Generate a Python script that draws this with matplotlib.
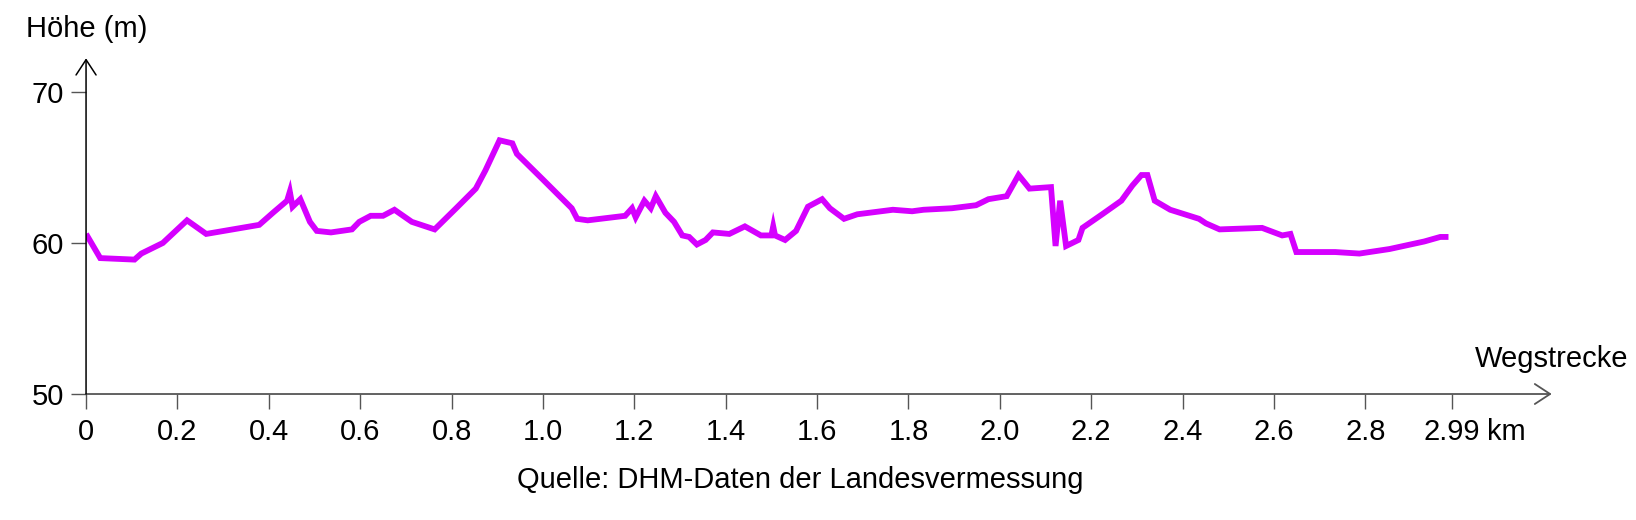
import matplotlib
matplotlib.use("Agg")
import matplotlib.pyplot as plt

plt.rcParams['font.family'] = ['Liberation Sans', 'DejaVu Sans']

# elevation profile (km, m)
dist = [0.0, 0.031, 0.106, 0.121, 0.168, 0.221, 0.263, 0.379, 0.409, 0.44, 0.446, 0.452,
        0.469, 0.49, 0.505, 0.536, 0.582, 0.598, 0.623, 0.65, 0.675, 0.713, 0.763, 0.81,
        0.853, 0.874, 0.905, 0.933, 0.943, 1.0, 1.063, 1.075, 1.098, 1.18, 1.195, 1.203,
        1.222, 1.236, 1.247, 1.268, 1.287, 1.305, 1.32, 1.337, 1.356, 1.372, 1.408, 1.442,
        1.477, 1.5, 1.504, 1.508, 1.53, 1.554, 1.58, 1.611, 1.628, 1.659, 1.688, 1.766,
        1.808, 1.833, 1.895, 1.948, 1.975, 2.015, 2.041, 2.065, 2.112, 2.122, 2.132, 2.145,
        2.172, 2.181, 2.224, 2.266, 2.29, 2.31, 2.323, 2.339, 2.373, 2.436, 2.451, 2.481,
        2.574, 2.618, 2.636, 2.649, 2.734, 2.787, 2.853, 2.929, 2.964, 2.982]
hoehe = [60.6, 59.0, 58.9, 59.3, 60.0, 61.5, 60.6, 61.2, 62.0, 62.8, 63.4, 62.4,
         62.9, 61.4, 60.8, 60.7, 60.9, 61.4, 61.8, 61.8, 62.2, 61.4, 60.9, 62.3,
         63.6, 64.8, 66.8, 66.6, 65.9, 64.2, 62.3, 61.6, 61.5, 61.8, 62.3, 61.7,
         62.8, 62.3, 63.1, 62.0, 61.4, 60.5, 60.4, 59.9, 60.2, 60.7, 60.6, 61.1,
         60.5, 60.5, 61.1, 60.5, 60.2, 60.8, 62.4, 62.9, 62.3, 61.6, 61.9, 62.2,
         62.1, 62.2, 62.3, 62.5, 62.9, 63.1, 64.5, 63.6, 63.7, 59.8, 62.8, 59.8,
         60.2, 61.0, 61.9, 62.8, 63.8, 64.5, 64.5, 62.8, 62.2, 61.6, 61.3, 60.9,
         61.0, 60.5, 60.6, 59.4, 59.4, 59.3, 59.6, 60.1, 60.4, 60.4]

x_ticks = [0, 0.2, 0.4, 0.6, 0.8, 1.0, 1.2, 1.4, 1.6, 1.8, 2.0, 2.2, 2.4, 2.6, 2.8, 2.99]
x_labels = ['0', '0.2', '0.4', '0.6', '0.8', '1.0', '1.2', '1.4', '1.6', '1.8', '2.0',
            '2.2', '2.4', '2.6', '2.8', '2.99']
y_ticks = [50, 60, 70]

fs = 21
fig = plt.figure(figsize=(16.36, 5.2), dpi=100)
ax = fig.add_axes([0.0526, 0.2423, 0.8959, 0.6456])
ax.set_xlim(0, 3.208)
ax.set_ylim(50, 72.23)

ax.plot(dist, hoehe, color='#d500ff', lw=4.2, solid_joinstyle='miter', solid_capstyle='butt')

for s in ax.spines.values():
    s.set_visible(False)

# axis lines with open arrow heads
arr = '->,head_length=0.55,head_width=0.36'
ax.annotate('', xy=(1, 0), xytext=(0, 0), xycoords='axes fraction',
            arrowprops=dict(arrowstyle=arr, color='#555555', lw=1.3, shrinkA=0, shrinkB=0,
                            mutation_scale=20))
ax.annotate('', xy=(0, 1), xytext=(0, 0), xycoords='axes fraction',
            arrowprops=dict(arrowstyle=arr, color='black', lw=1.1, shrinkA=0, shrinkB=0,
                            mutation_scale=20))

ax.set_xticks(x_ticks)
ax.set_xticklabels(x_labels)
ax.set_yticks(y_ticks)
ax.tick_params(axis='x', length=11, width=1, color='#555555', pad=6, labelsize=fs)
ax.tick_params(axis='y', length=11, width=1, color='#555555', pad=5, labelsize=fs)

ax.annotate('km', xy=(2.99, 0), xycoords=('data', 'axes fraction'), xytext=(25.2, -17),
            textcoords='offset points', ha='left', va='top', fontsize=fs)

fig.text(26 / 1636, 1 - 37 / 520, 'Höhe (m)', fontsize=fs, ha='left', va='baseline')
fig.text(1628 / 1636, 1 - 367 / 520, 'Wegstrecke', fontsize=fs, ha='right', va='baseline')
fig.text(800 / 1636, 1 - 488 / 520, 'Quelle: DHM-Daten der Landesvermessung', fontsize=fs,
         ha='center', va='baseline')

fig.savefig('out.png', dpi=100)
